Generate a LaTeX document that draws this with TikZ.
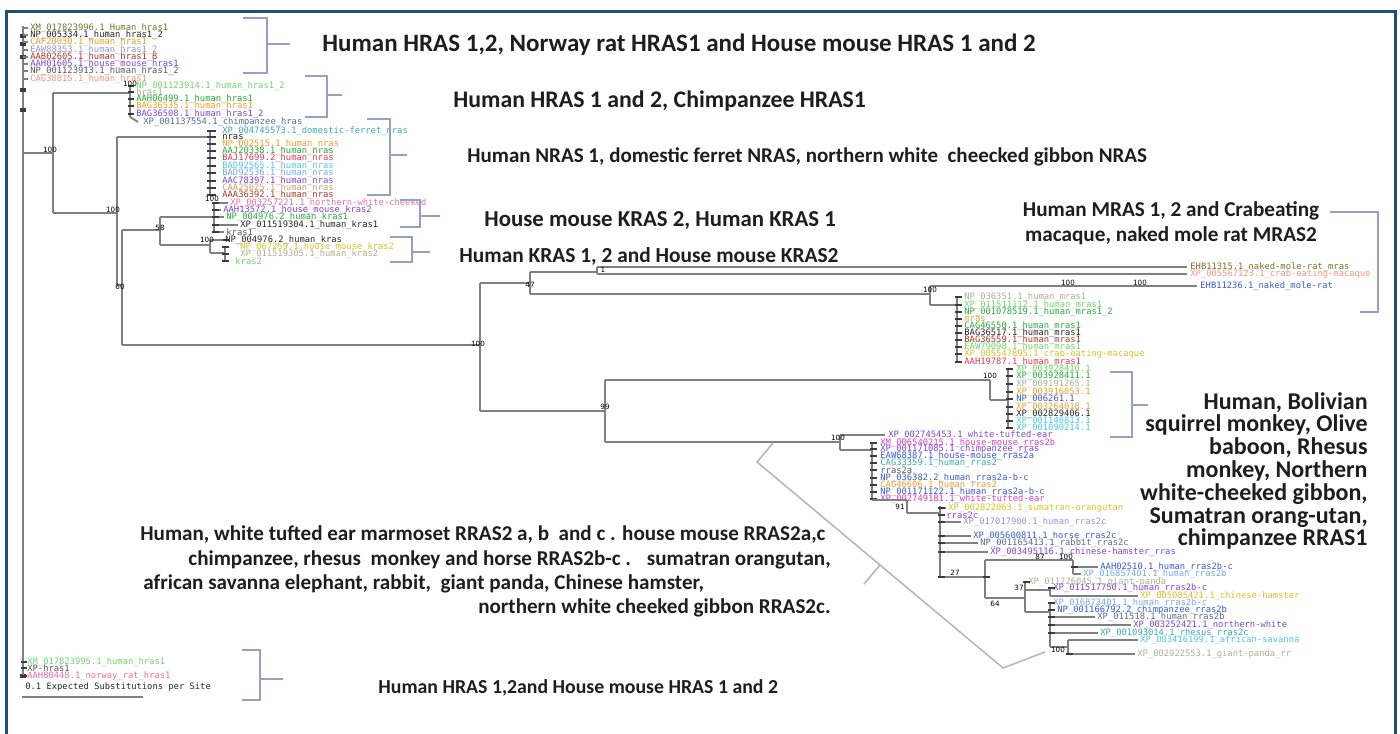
\documentclass[tikz,border=0pt]{standalone}
\usepackage{fontspec}
\setmainfont{Carlito}
\newfontfamily\leaffont{DejaVu Sans Mono}
\newfontfamily\numfont{DejaVu Sans}
\definecolor{framec}{RGB}{31,78,121}
\definecolor{treec}{RGB}{128,128,128}
\definecolor{brkc}{RGB}{150,160,195}
\definecolor{headc}{RGB}{30,30,30}
\definecolor{mkc}{RGB}{60,60,60}
\definecolor{cOlive}{RGB}{110,120,40}
\definecolor{cBlack}{RGB}{40,40,40}
\definecolor{cOrange}{RGB}{235,160,40}
\definecolor{cLav}{RGB}{150,150,210}
\definecolor{cBrown}{RGB}{170,60,40}
\definecolor{cPurple}{RGB}{130,70,210}
\definecolor{cDgray}{RGB}{90,90,90}
\definecolor{cSalmon}{RGB}{245,150,130}
\definecolor{cLgreen}{RGB}{110,215,110}
\definecolor{cGreen}{RGB}{40,170,60}
\definecolor{cLgray}{RGB}{175,175,150}
\definecolor{cSlate}{RGB}{90,110,150}
\definecolor{cTeal}{RGB}{60,170,170}
\definecolor{cRed}{RGB}{220,60,90}
\definecolor{cCyan}{RGB}{80,200,230}
\definecolor{cLblue}{RGB}{120,170,230}
\definecolor{cBlue}{RGB}{60,90,210}
\definecolor{cMag}{RGB}{220,60,200}
\definecolor{cYellow}{RGB}{215,195,40}
\definecolor{cPink}{RGB}{240,110,160}
\definecolor{cTan}{RGB}{200,160,110}
\begin{document}
\begin{tikzpicture}[x=0.5pt,y=-0.5pt,
  tree/.style={draw=treec, line width=0.9pt},
  combmk/.style={draw=mkc, line width=1.3pt},
  brk/.style={draw=brkc, line width=0.6pt},
  bigbrk/.style={draw=black!28, line width=0.8pt},
  leaf/.style={anchor=west, inner sep=0pt, font=\leaffont\fontsize{4.4}{4.4}\selectfont},
  bs/.style={inner sep=0pt, font=\numfont\fontsize{3.6}{3.6}\selectfont, text=black},
  head/.style={inner sep=0pt, text=headc, font=\fontsize{11}{11}\selectfont\bfseries},
  frame/.style={draw=framec, line width=1.5pt}]
\useasboundingbox (0,0) rectangle (1400,733);
\fill[white] (0,0) rectangle (1400,733);
\draw[frame] (6.5,740) -- (6.5,11.5) -- (1395.5,11.5) -- (1395.5,740);

% ---------- root ----------
\draw[tree] (23,26) -- (23,678);
\foreach \y in {36,44,57,90,110,676} \fill[mkc] (20,\y-2) rectangle (26,\y+2);
\foreach \y/\c/\t [count=\i] in {
 28/cOlive/XM\_017823996.1\_Human\_hras1,
 35/cBlack/NP\_005334.1\_human\_hras1\_2,
 42/cOrange/CAF20030.1\_human\_hras1,
 50/cLav/EAW88353.1\_human\_hras1\_2,
 57/cBrown/AAB02605.1\_human\_hras1\_B,
 64/cPurple/AAH01605.1\_house\_mouse\_hras1,
 71/cDgray/NP\_001123913.1\_human\_hras1\_2,
 79/cSalmon/CAG38815.1\_human\_hras1}
 {\draw[tree] (23,\y) -- (28,\y); \node[leaf,text=\c] (ta\i) at (30,\y) {\t};}

% root -> X -> chimp HRAS clade
\draw[tree] (23,153) -- (53,153);
\draw[tree] (53,93) -- (53,213);
\draw[tree] (53,93) -- (130,93);
\draw[tree] (130,86) -- (130,117);
\foreach \y/\c/\t [count=\i] in {
 86/cLgreen/NP\_001123914.1\_human\_hras1\_2,
 92/cLgray/hras1,
 99/cGreen/AAH06499.1\_human\_hras1,
 106/cOrange/BAG36535.1\_human\_hras1,
 114/cPurple/BAG36508.1\_human\_hras1\_2}
 {\draw[combmk] (128,\y) -- (134,\y); \node[leaf,text=\c] (tb\i) at (136,\y) {\t};}
\draw[tree] (130,117) -- (138,122);
\node[leaf,text=cSlate] (tb6) at (143,122) {XP\_001137554.1\_chimpanzee\_hras};

% X -> A
\draw[tree] (53,213) -- (117,213);
\draw[tree] (117,137) -- (117,285);
\draw[tree] (117,137) -- (207,137);
\draw[tree] (210,131) -- (210,196);
\draw[tree] (207,137) -- (210,137);
\foreach \y/\c/\t [count=\i] in {
 131/cTeal/XP\_004745573.1\_domestic-ferret\_nras,
 137/cBlack/nras,
 144/cOrange/NP\_002515.1\_human\_nras,
 151/cGreen/AAJ20338.1\_human\_nras,
 158/cRed/BAJ17699.2\_human\_nras,
 166/cCyan/BAD92565.1\_human\_nras,
 173/cLblue/BAD92536.1\_human\_nras,
 181/cPurple/AAC78397.1\_human\_nras,
 188/cTan/CAA25625.1\_human\_nras,
 195/cBrown/AAA36392.1\_human\_nras}
 {\draw[combmk] (207,\y) -- (216,\y); \node[leaf,text=\c] (tc\i) at (222,\y) {\t};}

% A -> B
\draw[tree] (117,285) -- (122,285);
\draw[tree] (122,230) -- (122,345);
\draw[tree] (122,230) -- (160,230);
\draw[tree] (160,217) -- (160,245);
\draw[tree] (160,217) -- (214,217);
\draw[tree] (214,203) -- (214,232);
\foreach \y/\x/\c/\t [count=\i] in {
 203/230/cPink/XP\_003257221.1\_northern-white-cheeked,
 210/223/cPurple/AAH13572.1\_house\_mouse\_kras2,
 217/226/cGreen/NP\_004976.2\_human\_kras1,
 225/240/cBlack/XP\_011519304.1\_human\_kras1,
 232/226/cDgray/kras1}
 {\draw[combmk] (212,\y) -- (219,\y); \draw[tree] (219,\y) -- (\x-2,\y); \node[leaf,text=\c] (td\i) at (\x,\y) {\t};}
\draw[tree] (160,245) -- (210,245);
\draw[tree] (210,240) -- (210,253);
\draw[tree] (210,253) -- (225,253);
\draw[tree] (225,247) -- (225,261);
\foreach \y/\x/\c/\t [count=\i] in {
 240/225/cBlack/NP\_004976.2\_human\_kras,
 247/240/cYellow/NP\_067259.1\_house\_mouse\_kras2,
 254/240/cLgray/XP\_011519305.1\_human\_kras2,
 261/235/cLgreen/kras2}
 {\draw[combmk] (222,\y) -- (229,\y); \node[leaf,text=\c] (te\i) at (\x,\y) {\t};}
\draw[tree] (210,240) -- (223,240);

% B -> long branch
\draw[tree] (122,345) -- (480,345);
\draw[tree] (480,283) -- (480,411);
\draw[tree] (480,283) -- (530,283);
\draw[tree] (530,272) -- (530,294);
\draw[tree] (530,272) -- (597,272);
\draw[tree] (597,267) -- (597,274);
\draw[tree] (597,267) -- (1187,267);
\draw[tree] (597,274) -- (1187,274);
\node[leaf,text=cOlive] (tf1) at (1190,267) {EHB11315.1\_naked-mole-rat\_mras};
\node[leaf,text=cSalmon] (tf2) at (1190,274) {XP\_005567123.1\_crab-eating-macaque};
\draw[tree] (530,294) -- (930,294);
\draw[tree] (930,286) -- (930,305);
\draw[tree] (930,286) -- (1197,286);
\node[leaf,text=cBlue] (tf3) at (1200,286) {EHB11236.1\_naked\_mole-rat};
\draw[tree] (930,305) -- (957,305);
\draw[tree] (957,297) -- (957,362);
\foreach \y/\c/\t [count=\i] in {
 297/cLgray/NP\_036351.1\_human\_mras1,
 305/cLgreen/XP\_011511112.1\_human\_mras1,
 312/cGreen/NP\_001078519.1\_human\_mras1\_2,
 319/cOrange/mras,
 326/cGreen/CAG46550.1\_human\_mras1,
 333/cBlack/BAG36517.1\_human\_mras1,
 340/cBrown/BAG36559.1\_human\_mras1,
 347/cLgreen/EAW79098.1\_human\_mras1,
 354/cYellow/XP\_005547895.1\_crab-eating-macaque,
 362/cRed/AAH19787.1\_human\_mras1}
 {\draw[combmk] (955,\y) -- (962,\y); \node[leaf,text=\c] (tg\i) at (964,\y) {\t};}

% RRAS
\draw[tree] (480,411) -- (605,411);
\draw[tree] (605,380) -- (605,442);
\draw[tree] (605,380) -- (990,380);
\draw[tree] (990,380) -- (990,400);
\draw[tree] (990,400) -- (1008,400);
\draw[tree] (1008,369) -- (1008,428);
\foreach \y/\c/\t [count=\i] in {
 369/cLgreen/XP\_003928410.1,
 376/cGreen/XP\_003928411.1,
 384/cLgray/XP\_009191265.1,
 392/cOrange/XP\_003916053.1,
 399/cBlue/NP\_006261.1,
 407/cOrange/XP\_003264018.1,
 414/cBlack/XP\_002829406.1,
 421/cCyan/XP\_001148813.1,
 428/cCyan/XP\_001090214.1}
 {\draw[combmk] (1006,\y) -- (1013,\y); \node[leaf,text=\c] (th\i) at (1016,\y) {\t};}

\draw[tree] (605,442) -- (840,442);
\draw[tree] (840,435) -- (840,450);
\draw[tree] (840,435) -- (885,435);
\node[leaf,text=cPurple] (ti0) at (888,435) {XP\_002745453.1\_white-tufted-ear};
\draw[tree] (840,450) -- (872,450);
\draw[tree] (872,443) -- (872,500);
\foreach \y/\c/\t [count=\i] in {
 443/cMag/XM\_006540215.1\_house-mouse\_rras2b,
 449/cPurple/XP\_001171085.1\_chimpanzee\_rras,
 456/cBlue/EAW68387.1\_house-mouse\_rras2a,
 463/cTeal/CAG33359.1\_human\_rras2,
 470/cDgray/rras2a,
 478/cBlue/NP\_036382.2\_human\_rras2a-b-c,
 485/cOrange/CAG46606.1\_human\_rras2,
 492/cBlue/NP\_001171122.1\_human\_rras2a-b-c,
 499/cMag/XP\_002749181.1\_white-tufted-ear}
 {\draw[combmk] (870,\y) -- (877,\y); \node[leaf,text=\c] (ti\i) at (880,\y) {\t};}

% cascade
\draw[tree] (872,500) -- (907,500);
\draw[tree] (907,500) -- (907,513);
\draw[tree] (907,513) -- (940,513);
\draw[tree] (940,506) -- (940,577);
\foreach \y/\x/\c/\t [count=\i] in {
 508/948/cYellow/XP\_002822063.1\_sumatran-orangutan,
 515/946/cPurple/rras2c,
 522/963/cLav/XP\_017017900.1\_human\_rras2c,
 536/973/cBlue/XP\_005600811.1\_horse\_rras2c,
 543/980/cSlate/NP\_001165413.1\_rabbit\_rras2c,
 552/990/cPurple/XP\_003495116.1\_chinese-hamster\_rras}
 {\draw[tree] (940,\y) -- (\x-2,\y); \draw[combmk] (938,\y) -- (945,\y); \node[leaf,text=\c] (tj\i) at (\x,\y) {\t};}
\draw[tree] (940,577) -- (985,577);
\draw[tree] (985,560) -- (985,598);
\draw[tree] (985,560) -- (1073,560);
\draw[tree] (1073,560) -- (1073,574);
\draw[tree] (1073,567) -- (1098,567);
\draw[tree] (1073,574) -- (1081,574);
\node[leaf,text=cBlue] (tk1) at (1100,567) {AAH02510.1\_human\_rras2b-c};
\node[leaf,text=cLblue] (tk2) at (1083,574) {XP\_016857401.1\_human\_rras2b};
\draw[tree] (985,598) -- (1025,598);
\draw[tree] (1025,582) -- (1025,612);
\node[leaf,text=cLgray] (tk3) at (1028,582) {XP\_011226045.1\_giant-panda};
\draw[tree] (1025,590) -- (1050,590);
\draw[tree] (1050,588) -- (1050,596);
\node[leaf,text=cPurple] (tk4) at (1053,588) {XP\_011517750.1\_human\_rras2b-c};
\draw[tree] (1050,596) -- (1138,596);
\node[leaf,text=cYellow] (tk5) at (1140,596) {XP\_005085421.1\_chinese-hamster};
\draw[tree] (1025,612) -- (1050,612);
\draw[tree] (1050,603) -- (1050,647);
\node[leaf,text=cLblue] (tk6) at (1053,603) {XP\_016873401.1\_human\_rras2b-c};
\node[leaf,text=cBlue] (tk7) at (1057,610) {NP\_001166792.2\_chimpanzee\_rras2b};
\draw[tree] (1050,617) -- (1095,617);
\node[leaf,text=cSlate] (tk8) at (1097,617) {XP\_011518.1\_human\_rras2b};
\draw[tree] (1050,625) -- (1131,625);
\node[leaf,text=cPurple] (tk9) at (1133,625) {XP\_003252421.1\_northern-white};
\draw[tree] (1050,633) -- (1098,633);
\node[leaf,text=cTeal] (tk10) at (1100,633) {XP\_001093014.1\_rhesus\_rras2c};
\draw[tree] (1050,647) -- (1068,647);
\draw[tree] (1068,640) -- (1068,654);
\draw[tree] (1068,640) -- (1138,640);
\node[leaf,text=cCyan] (tk11) at (1140,640) {XP\_003416199.1\_african-savanna};
\draw[tree] (1068,654) -- (1135,654);
\node[leaf,text=cLgray] (tk12) at (1137,654) {XP\_002922553.1\_giant-panda\_rr};
\foreach \x/\y in {1050/603,1050/610,1050/617,1050/625,1050/633,1025/582,1050/588,1073/567,985/577,940/577,1068/654}
  \draw[combmk] (\x-2,\y) -- (\x+5,\y);

% bottom-left leaves
\draw[tree] (23,662) -- (23,676);
\foreach \y/\c/\t [count=\i] in {
 662/cLgreen/XM\_017823995.1\_human\_hras1,
 668/cDgray/XP-hras1,
 676/cPink/AAH80448.1\_norway\_rat\_hras1}
 {\draw[combmk] (21,\y) -- (27,\y); \node[leaf,text=\c] (tl\i) at (27,\y) {\t};}
\node[leaf,text=cBlack] (scale) at (25,687) {0.1 Expected Substitutions per Site};
\draw[tree, line width=1.1pt] (22,697) -- (143,697);

% support values
\foreach \x/\y/\t [count=\i] in {50/150/100, 113/210/100, 120/287/60, 160/228/58, 207/240/100, 130/84/100,
  478/344/100, 530/285/47, 603/270/1, 930/290/100, 1068/283/100, 1140/283/100, 605/407/99,
  990/376/100, 838/438/100, 900/507/91, 955/573/27, 995/604/64, 1040/557/87, 1066/557/100,
  1019/588/37, 1058/650/100, 212/199/100}
 \node[bs] (sv\i) at (\x,\y) {\t};

% brackets
\draw[brk] (243,18) -- (267,18) -- (267,73) -- (243,73);
\draw[brk] (267,44) -- (290,44);
\draw[brk] (305,76) -- (327,76) -- (327,117) -- (305,117);
\draw[brk] (327,95) -- (342,95);
\draw[brk] (367,119) -- (390,119) -- (390,195) -- (367,195);
\draw[brk] (390,155) -- (407,155);
\draw[brk] (400,200) -- (420,200) -- (420,227) -- (400,227);
\draw[brk] (420,216) -- (440,216);
\draw[brk] (390,237) -- (412,237) -- (412,262) -- (390,262);
\draw[brk] (412,252) -- (430,252);
\draw[brk] (1330,212) -- (1378,212) -- (1378,312) -- (1360,312);
\draw[brk] (1110,372) -- (1132,372) -- (1132,437) -- (1110,437);
\draw[brk] (1132,405) -- (1148,405);
\draw[brk] (242,650) -- (260,650) -- (260,700) -- (242,700);
\draw[brk] (260,679) -- (283,679);
\draw[bigbrk] (773,443) -- (757,462) -- (1003,668) -- (1045,652);
\draw[bigbrk] (880,565) -- (864,584);

% headings
\node[head, anchor=west, font=\fontsize{12.5}{12.5}\selectfont\bfseries] (h1) at (322,45) {Human HRAS 1,2, Norway rat HRAS1 and House mouse HRAS 1 and 2};
\node[head, anchor=west, font=\fontsize{11.9}{11.9}\selectfont\bfseries] (h2) at (453,101) {Human HRAS 1 and 2, Chimpanzee HRAS1};
\node[head, anchor=west, font=\fontsize{10.5}{10.5}\selectfont\bfseries] (h3) at (467,157) {Human NRAS 1, domestic ferret NRAS, northern white~ cheecked gibbon NRAS};
\node[head, anchor=west, font=\fontsize{11.4}{11.4}\selectfont\bfseries] (h4) at (484,221) {House mouse KRAS 2, Human KRAS 1};
\node[head, anchor=west, font=\fontsize{10.7}{10.7}\selectfont\bfseries] (h5) at (459,256) {Human KRAS 1, 2 and House mouse KRAS2};
\node[head, align=center, font=\fontsize{10.6}{12.5}\selectfont\bfseries] (h6) at (1171,223) {Human MRAS 1, 2 and Crabeating\\macaque, naked mole rat MRAS2};
\node[head, align=right, anchor=east, font=\fontsize{12}{11.4}\selectfont\bfseries] (h7) at (1368,471) {Human, Bolivian\\squirrel monkey, Olive\\baboon, Rhesus\\monkey, Northern\\white-cheeked gibbon,\\Sumatran orang-utan,\\chimpanzee RRAS1};
\node[head, anchor=west, font=\fontsize{10.55}{10.55}\selectfont\bfseries] (h8a) at (140,535) {Human, white tufted ear marmoset RRAS2 a, b~ and c . house mouse RRAS2a,c};
\node[head, anchor=east, font=\fontsize{10.55}{10.55}\selectfont\bfseries] (h8b) at (831,560) {chimpanzee, rhesus~ monkey and horse RRAS2b-c .~~ sumatran orangutan,};
\node[head, anchor=west, font=\fontsize{10.55}{10.55}\selectfont\bfseries] (h8c) at (143,584) {african savanna elephant, rabbit,~ giant panda, Chinese hamster,};
\node[head, anchor=east, font=\fontsize{10.55}{10.55}\selectfont\bfseries] (h8d) at (831,608) {northern white cheeked gibbon RRAS2c.};
\node[head, anchor=west, font=\fontsize{9.9}{9.9}\selectfont\bfseries] (h9) at (378,688) {Human HRAS 1,2and House mouse HRAS 1 and 2};
\end{tikzpicture}
\end{document}
